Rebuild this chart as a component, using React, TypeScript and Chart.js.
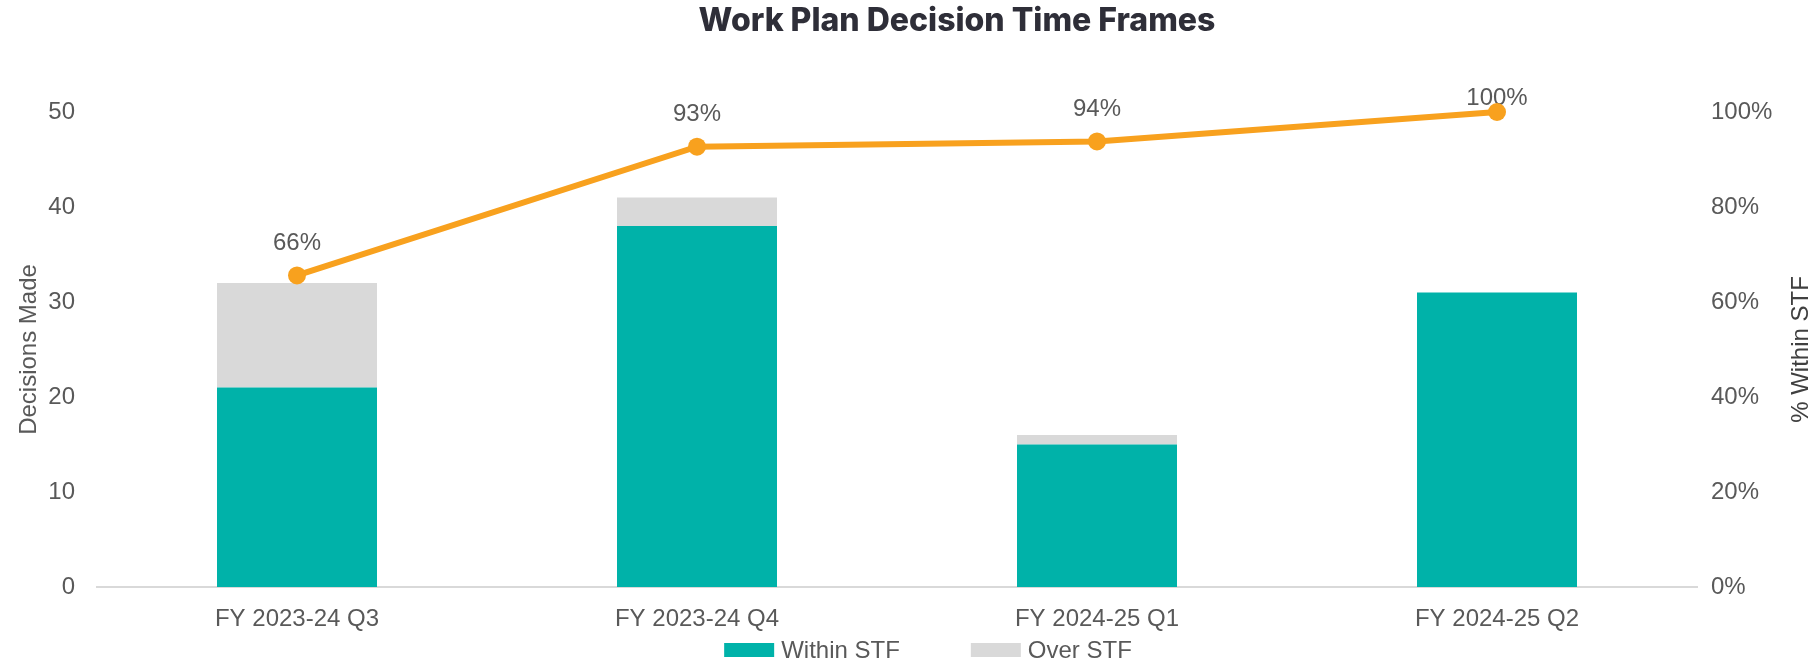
import React, { useEffect, useRef } from "react";
import { Chart, registerables } from "chart.js";

Chart.register(...registerables);

const categories = ["FY 2023-24 Q3", "FY 2023-24 Q4", "FY 2024-25 Q1", "FY 2024-25 Q2"];
const withinSTF = [21, 38, 15, 31];
const overSTF = [11, 3, 1, 0];
const pctWithin = [65.6, 92.7, 93.8, 100];
const leftTicks = [0, 10, 20, 30, 40, 50];
const rightTicks = [0, 20, 40, 60, 80, 100];

const TEAL = "#00B2A9";
const GREY = "#D9D9D9";
const ORANGE = "#F8A11E";
const TEXT = "#595959";
const FONT = "'Liberation Sans', Arial, sans-serif";

const labelPlugin = {
  id: "pctLabels",
  beforeDatasetsDraw(chart: any) {
    const ctx = chart.ctx;
    const meta = chart.getDatasetMeta(2);
    const ca = chart.chartArea;
    ctx.save();
    ctx.font = `24px ${FONT}`;
    ctx.fillStyle = TEXT;
    ctx.textAlign = "center";
    ctx.textBaseline = "middle";
    meta.data.forEach((pt: any, i: number) => {
      const y = Math.max(pt.y - 32, ca.top - 14);
      ctx.fillText(Math.round(pctWithin[i]) + "%", pt.x, y);
    });
    ctx.restore();
  },
};

const decorPlugin = {
  id: "decor",
  afterDraw(chart: any) {
    const ctx = chart.ctx;
    const ca = chart.chartArea;
    ctx.save();
    // Title
    ctx.font = `800 32px Inter, 'Noto Sans', sans-serif`;
    ctx.fillStyle = "#2E2E38";
    ctx.textAlign = "center";
    ctx.textBaseline = "middle";
    ctx.fillText("Work Plan Decision Time Frames", (ca.left + ca.right) / 2 + 60, 21);

    // Right axis title, reading bottom-to-top
    ctx.save();
    ctx.translate(1801, (ca.top + ca.bottom) / 2);
    ctx.rotate(-Math.PI / 2);
    ctx.font = `24px ${FONT}`;
    ctx.fillStyle = "#404040";
    ctx.textAlign = "center";
    ctx.textBaseline = "middle";
    ctx.fillText("% Within STF", 0, 0);
    ctx.restore();

    // Legend
    const items = [
      { text: "Within STF", color: TEAL },
      { text: "Over STF", color: GREY },
    ];
    ctx.font = `24px ${FONT}`;
    const boxW = 50, boxH = 14, gap = 7, spacing = 71;
    const widths = items.map((it) => boxW + gap + ctx.measureText(it.text).width);
    const total = widths.reduce((a, b) => a + b, 0) + spacing * (items.length - 1);
    let x = (ca.left + ca.right) / 2 + 31 - total / 2;
    const y = 650;
    items.forEach((it, i) => {
      ctx.fillStyle = it.color;
      ctx.fillRect(x, y - boxH / 2, boxW, boxH);
      ctx.fillStyle = TEXT;
      ctx.textAlign = "left";
      ctx.textBaseline = "middle";
      ctx.fillText(it.text, x + boxW + gap, y + 1);
      x += widths[i] + spacing;
    });
    ctx.restore();
  },
};

export default function App() {
  const ref = useRef<HTMLCanvasElement>(null);
  useEffect(() => {
    if (!ref.current) return;
    const chart = new Chart(ref.current, {
      type: "bar",
      data: {
        labels: categories,
        datasets: [
          {
            type: "bar",
            label: "Within STF",
            data: withinSTF,
            backgroundColor: TEAL,
            stack: "s",
            yAxisID: "y",
            order: 2,
            categoryPercentage: 1,
            barPercentage: 0.4,
          },
          {
            type: "bar",
            label: "Over STF",
            data: overSTF,
            backgroundColor: GREY,
            stack: "s",
            yAxisID: "y",
            order: 2,
            categoryPercentage: 1,
            barPercentage: 0.4,
          },
          {
            type: "line",
            label: "% Within STF",
            data: pctWithin,
            borderColor: ORANGE,
            backgroundColor: ORANGE,
            borderWidth: 6,
            pointRadius: 9,
            pointHoverRadius: 9,
            pointBorderWidth: 0,
            yAxisID: "y1",
            order: 0,
            tension: 0,
            clip: false,
          } as any,
        ],
      },
      options: {
        responsive: false,
        animation: false,
        layout: { padding: { top: 112, left: 0, right: 0, bottom: 34 } },
        plugins: {
          legend: { display: false },
          tooltip: { enabled: false },
          title: { display: false },
        },
        scales: {
          x: {
            stacked: true,
            grid: { display: false, drawTicks: false },
            border: { display: true, color: GREY, width: 2 },
            ticks: { color: TEXT, font: { family: FONT, size: 24 }, padding: 18, maxRotation: 0 },
            afterFit(scale: any) {
              scale.height = 45;
            },
          },
          y: {
            stacked: true,
            position: "left",
            min: 0,
            max: 50,
            grid: { display: false, drawTicks: false },
            border: { display: false },
            afterBuildTicks(scale: any) {
              scale.ticks = leftTicks.map((v) => ({ value: v }));
            },
            ticks: { color: TEXT, font: { family: FONT, size: 24 }, padding: 22 },
            title: {
              display: true,
              text: "Decisions Made",
              color: TEXT,
              font: { family: FONT, size: 24, lineHeight: 1.2 },
              padding: { top: 15, bottom: 0 },
            },
            afterFit(scale: any) {
              scale.width = 97;
            },
          },
          y1: {
            position: "right",
            min: 0,
            max: 100,
            grid: { display: false, drawTicks: false },
            border: { display: false },
            afterBuildTicks(scale: any) {
              scale.ticks = rightTicks.map((v) => ({ value: v }));
            },
            ticks: {
              color: TEXT,
              font: { family: FONT, size: 24 },
              padding: 14,
              callback: (v: any) => v + "%",
            },
            title: { display: false },
            afterFit(scale: any) {
              scale.width = 116;
            },
          },
        },
      },
      plugins: [labelPlugin, decorPlugin],
    });
    return () => chart.destroy();
  }, []);
  return (
    <div style={{ position: "absolute", left: 0, top: 0, width: 1813, height: 666, background: "#fff" }}>
      <canvas ref={ref} width={1813} height={666} />
    </div>
  );
}
